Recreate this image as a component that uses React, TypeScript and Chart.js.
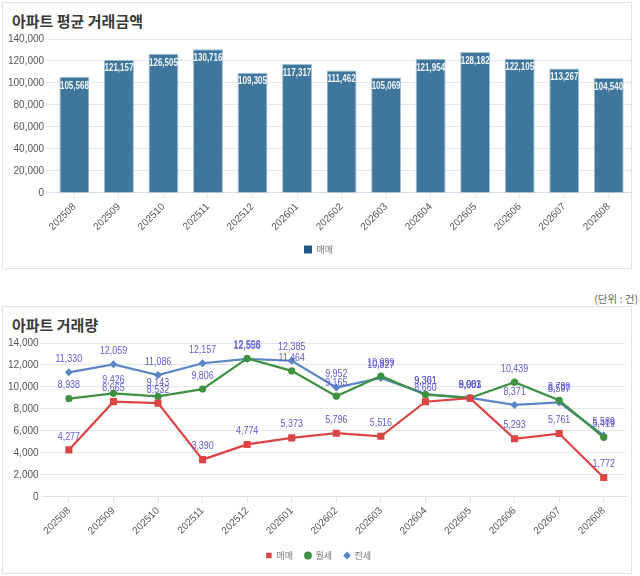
import { useEffect, useRef } from "react";
import { Chart, registerables } from "chart.js";

Chart.register(...registerables);

const months = [
  "202508", "202509", "202510", "202511", "202512", "202601", "202602",
  "202603", "202604", "202605", "202606", "202607", "202608",
];

// 평균 거래금액 (매매)
const avgPrice = [
  105568, 121157, 126505, 130716, 109305, 117317, 111462, 105069, 121954,
  128182, 122105, 113267, 104540,
];

// 거래량
const saleCount = [4277, 8665, 8532, 3390, 4774, 5373, 5796, 5516, 8660, 8981, 5293, 5761, 1772];
const monthlyRentCount = [8938, 9426, 9143, 9806, 12598, 11464, 9165, 10999, 9301, 9001, 10439, 8786, 5419];
const jeonseCount = [11330, 12059, 11086, 12157, 12556, 12385, 9952, 10827, 9361, 9003, 8371, 8597, 5589];

const FONT = "'Noto Sans CJK KR', 'Noto Sans', sans-serif";
const NUM_FONT = "'Liberation Sans', 'Noto Sans CJK KR', sans-serif";
const GRID = "#e3e8ee";

const fmt = (n: number) => n.toLocaleString("en-US");

// draws value labels (no datalabels plugin available); squeezes text a bit horizontally
const valueLabels = {
  id: "valueLabels",
  afterDatasetsDraw(chart: any, _args: any, opts: any) {
    const ctx = chart.ctx;
    chart.data.datasets.forEach((ds: any, i: number) => {
      const meta = chart.getDatasetMeta(i);
      if (meta.hidden) return;
      meta.data.forEach((el: any, j: number) => {
        const v = ds.data[j];
        ctx.save();
        ctx.font = opts.font;
        ctx.fillStyle = opts.color;
        ctx.textAlign = "center";
        const y = opts.inside ? el.y + 4 : el.y - 8;
        ctx.textBaseline = opts.inside ? "top" : "bottom";
        ctx.translate(el.x, y);
        ctx.scale(opts.squeeze || 1, 1);
        ctx.fillText(fmt(v), 0, 0);
        ctx.restore();
      });
    });
  },
};

const xAxis = {
  offset: true,
  grid: { drawOnChartArea: false, offset: false, color: GRID, tickLength: 6 },
  border: { color: "#d5dde6" },
  ticks: { color: "#555", font: { family: NUM_FONT, size: 10 }, minRotation: 45, maxRotation: 45, padding: 2 },
};

const yTicks = (step: number) => ({
  stepSize: step,
  color: "#555",
  padding: 2,
  font: { family: NUM_FONT, size: 10 },
  callback: (v: any) => fmt(Number(v)),
});

function PriceChart() {
  const ref = useRef<HTMLCanvasElement>(null);

  useEffect(() => {
    if (!ref.current) return;
    const chart = new Chart(ref.current, {
      type: "bar",
      data: {
        labels: months,
        datasets: [
          {
            label: "매매",
            data: avgPrice,
            backgroundColor: "#3f769b",
            borderColor: "#a3c0d4",
            borderWidth: 1,
            categoryPercentage: 0.7,
            barPercentage: 0.96,
          },
        ],
      },
      options: {
        animation: false,
        responsive: true,
        maintainAspectRatio: false,
        layout: { padding: { left: 3, right: 0, top: 10, bottom: 2 } },
        scales: {
          x: xAxis as any,
          y: {
            min: 0,
            max: 140000,
            ticks: yTicks(20000),
            grid: { color: GRID, tickLength: 6 },
            border: { display: false },
          },
        },
        plugins: {
          legend: {
            position: "bottom",
            labels: {
              boxWidth: 8,
              boxHeight: 8,
              color: "#777",
              padding: 10,
              font: { family: FONT, size: 9 },
              generateLabels: (c: any) =>
                c.data.datasets.map((d: any, i: number) => ({
                  text: d.label,
                  fillStyle: "#1d5987",
                  strokeStyle: "#1d5987",
                  lineWidth: 0,
                  datasetIndex: i,
                  fontColor: "#777",
                })),
            },
          },
          tooltip: { enabled: false },
          valueLabels: { inside: true, color: "#f2f5f8", font: `bold 10px ${NUM_FONT}`, squeeze: 0.8 },
        } as any,
      },
      plugins: [valueLabels],
    });
    return () => chart.destroy();
  }, []);

  return <canvas ref={ref} />;
}

function VolumeChart() {
  const ref = useRef<HTMLCanvasElement>(null);

  useEffect(() => {
    if (!ref.current) return;
    const lineSet = (label: string, data: number[], color: string, style: string, radius: number) => ({
      label,
      data,
      borderColor: color,
      backgroundColor: color,
      borderWidth: 2.2,
      pointStyle: style,
      pointRadius: radius,
      pointBorderWidth: 0,
      tension: 0,
      fill: false,
    });
    const chart = new Chart(ref.current, {
      type: "line",
      data: {
        labels: months,
        datasets: [
          lineSet("매매", saleCount, "#dc4343", "rect", 5),
          lineSet("월세", monthlyRentCount, "#3d9140", "circle", 3.6),
          lineSet("전세", jeonseCount, "#5a86c6", "rectRot", 4),
        ] as any,
      },
      options: {
        animation: false,
        responsive: true,
        maintainAspectRatio: false,
        layout: { padding: { left: 3, right: 0, top: 4, bottom: 0 } },
        scales: {
          x: xAxis as any,
          y: {
            min: 0,
            max: 14000,
            ticks: yTicks(2000),
            grid: { color: GRID, tickLength: 6 },
            border: { display: false },
          },
        },
        plugins: {
          legend: {
            position: "bottom",
            labels: {
              usePointStyle: true,
              boxWidth: 6,
              boxHeight: 5.5,
              color: "#777",
              padding: 12,
              font: { family: FONT, size: 9 },
            },
          },
          tooltip: { enabled: false },
          valueLabels: { inside: false, color: "#5f5ad6", font: `10.5px ${NUM_FONT}`, squeeze: 0.85 },
        } as any,
      },
      plugins: [valueLabels],
    });
    return () => chart.destroy();
  }, []);

  return <canvas ref={ref} />;
}

const card: React.CSSProperties = {
  position: "absolute",
  left: 2,
  width: 630,
  border: "1px solid #dde3ea",
  background: "#fff",
  boxSizing: "border-box",
};

const title: React.CSSProperties = {
  position: "absolute",
  left: 9,
  fontFamily: FONT,
  fontWeight: 700,
  fontSize: 15,
  color: "#3a3a3a",
  lineHeight: "20px",
};

export default function App() {
  return (
    <div style={{ position: "fixed", left: 0, top: 0, width: 640, height: 576, background: "#fff", fontFamily: FONT }}>
      <div style={{ ...card, top: 2, height: 267 }}>
        <div style={{ ...title, top: 8 }}>아파트 평균 거래금액</div>
        <div style={{ position: "absolute", left: 0, top: 26, width: 628, height: 237 }}>
          <PriceChart />
        </div>
      </div>
      <div style={{ position: "absolute", right: 2, top: 291, fontFamily: FONT, fontSize: 10.5, color: "#666" }}>
        (단위 : 건)
      </div>
      <div style={{ ...card, top: 306, height: 268 }}>
        <div style={{ ...title, top: 8 }}>아파트 거래량</div>
        <div style={{ position: "absolute", left: 0, top: 28, width: 628, height: 235 }}>
          <VolumeChart />
        </div>
      </div>
    </div>
  );
}
